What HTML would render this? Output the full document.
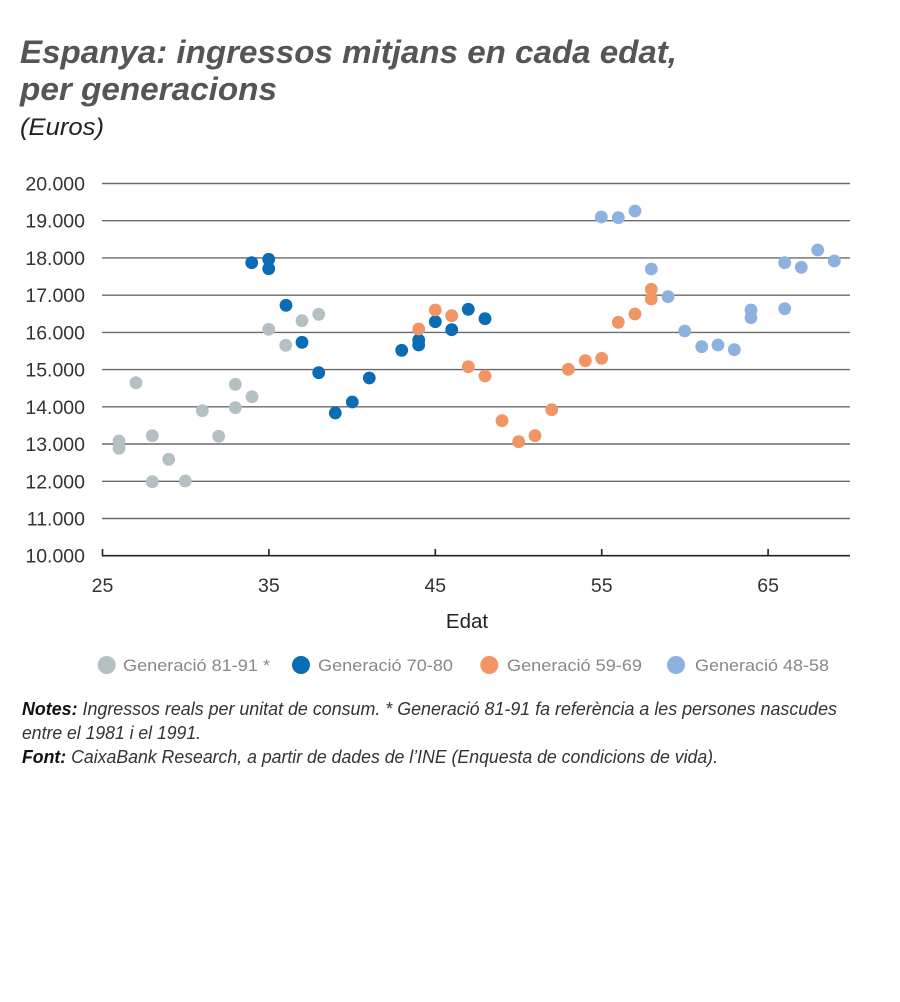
<!DOCTYPE html>
<html><head><meta charset="utf-8"><style>
html,body{margin:0;padding:0;background:#fff;}
svg{display:block;}
text{font-family:"Liberation Sans",sans-serif;}
</style></head><body>
<svg width="900" height="1002" viewBox="0 0 900 1002" xmlns="http://www.w3.org/2000/svg">
<rect width="900" height="1002" fill="#fff"/>
<!-- Title -->
<text x="20" y="63" font-size="32" font-weight="bold" font-style="italic" fill="#555" textLength="657" lengthAdjust="spacingAndGlyphs">Espanya: ingressos mitjans en cada edat,</text>
<text x="20" y="100" font-size="32" font-weight="bold" font-style="italic" fill="#555" textLength="257" lengthAdjust="spacingAndGlyphs">per generacions</text>
<text x="20" y="135" font-size="24" font-style="italic" fill="#222" textLength="84" lengthAdjust="spacingAndGlyphs">(Euros)</text>

<!-- gridlines -->
<g stroke="#6a6a6a" stroke-width="1.4">
<line x1="102" y1="183.5" x2="850" y2="183.5"/>
<line x1="102" y1="220.7" x2="850" y2="220.7"/>
<line x1="102" y1="257.9" x2="850" y2="257.9"/>
<line x1="102" y1="295.2" x2="850" y2="295.2"/>
<line x1="102" y1="332.4" x2="850" y2="332.4"/>
<line x1="102" y1="369.6" x2="850" y2="369.6"/>
<line x1="102" y1="406.8" x2="850" y2="406.8"/>
<line x1="102" y1="444.0" x2="850" y2="444.0"/>
<line x1="102" y1="481.3" x2="850" y2="481.3"/>
<line x1="102" y1="518.5" x2="850" y2="518.5"/>
</g>
<!-- axis -->
<g stroke="#222" stroke-width="1.6">
<line x1="102" y1="555.7" x2="850" y2="555.7"/>
<line x1="102.5" y1="549" x2="102.5" y2="556"/>
<line x1="268.9" y1="549" x2="268.9" y2="556"/>
<line x1="435.3" y1="549" x2="435.3" y2="556"/>
<line x1="601.7" y1="549" x2="601.7" y2="556"/>
<line x1="768.1" y1="549" x2="768.1" y2="556"/>
</g>
<!-- y labels -->
<g font-size="19.5" fill="#333" text-anchor="end">
<text x="85" y="190.5">20.000</text>
<text x="85" y="227.7">19.000</text>
<text x="85" y="264.9">18.000</text>
<text x="85" y="302.2">17.000</text>
<text x="85" y="339.4">16.000</text>
<text x="85" y="376.6">15.000</text>
<text x="85" y="413.8">14.000</text>
<text x="85" y="451.0">13.000</text>
<text x="85" y="488.3">12.000</text>
<text x="85" y="525.5">11.000</text>
<text x="85" y="562.7">10.000</text>
</g>
<!-- x labels -->
<g font-size="19.5" fill="#333" text-anchor="middle">
<text x="102.5" y="592">25</text>
<text x="268.9" y="592">35</text>
<text x="435.3" y="592">45</text>
<text x="601.7" y="592">55</text>
<text x="768.1" y="592">65</text>
</g>
<text x="467" y="628" font-size="20.5" fill="#222" text-anchor="middle">Edat</text>

<!-- grey 81-91 -->
<g fill="#b5c0c2">
<circle cx="119" cy="441" r="6.4"/>
<circle cx="119" cy="448.3" r="6.4"/>
<circle cx="136" cy="382.7" r="6.4"/>
<circle cx="152.3" cy="435.7" r="6.4"/>
<circle cx="152.3" cy="481.7" r="6.4"/>
<circle cx="168.7" cy="459.3" r="6.4"/>
<circle cx="185.3" cy="481" r="6.4"/>
<circle cx="202.3" cy="410.7" r="6.4"/>
<circle cx="218.7" cy="436.3" r="6.4"/>
<circle cx="235.3" cy="384.3" r="6.4"/>
<circle cx="235.3" cy="407.7" r="6.4"/>
<circle cx="252" cy="396.7" r="6.4"/>
<circle cx="268.7" cy="329.3" r="6.4"/>
<circle cx="285.7" cy="345.3" r="6.4"/>
<circle cx="302" cy="320.7" r="6.4"/>
<circle cx="318.7" cy="314.3" r="6.4"/>
</g>
<!-- dark blue 70-80 -->
<g fill="#0a6cb4">
<circle cx="251.7" cy="262.7" r="6.4"/>
<circle cx="268.7" cy="259.3" r="6.4"/>
<circle cx="268.7" cy="268.7" r="6.4"/>
<circle cx="286" cy="305.3" r="6.4"/>
<circle cx="302" cy="342.3" r="6.4"/>
<circle cx="318.7" cy="372.7" r="6.4"/>
<circle cx="335.3" cy="413" r="6.4"/>
<circle cx="352.3" cy="402" r="6.4"/>
<circle cx="369.3" cy="378" r="6.4"/>
<circle cx="401.7" cy="350.3" r="6.4"/>
<circle cx="418.7" cy="340" r="6.4"/>
<circle cx="418.7" cy="345" r="6.4"/>
<circle cx="435.3" cy="321.7" r="6.4"/>
<circle cx="451.7" cy="329.7" r="6.4"/>
<circle cx="468.3" cy="309.3" r="6.4"/>
<circle cx="485" cy="318.7" r="6.4"/>
</g>
<!-- orange 59-69 -->
<g fill="#f19466">
<circle cx="418.7" cy="329" r="6.4"/>
<circle cx="435.3" cy="310" r="6.4"/>
<circle cx="451.7" cy="315.7" r="6.4"/>
<circle cx="468.3" cy="366.7" r="6.4"/>
<circle cx="485" cy="376" r="6.4"/>
<circle cx="502" cy="420.7" r="6.4"/>
<circle cx="518.7" cy="441.7" r="6.4"/>
<circle cx="535" cy="435.7" r="6.4"/>
<circle cx="551.7" cy="409.7" r="6.4"/>
<circle cx="568.3" cy="369.3" r="6.4"/>
<circle cx="585.3" cy="360.7" r="6.4"/>
<circle cx="601.7" cy="358.3" r="6.4"/>
<circle cx="618.3" cy="322.3" r="6.4"/>
<circle cx="635" cy="314" r="6.4"/>
<circle cx="651.3" cy="289.3" r="6.4"/>
<circle cx="651.3" cy="299" r="6.4"/>
</g>
<!-- light blue 48-58 -->
<g fill="#8db2e0">
<circle cx="601.3" cy="217" r="6.4"/>
<circle cx="618.3" cy="217.7" r="6.4"/>
<circle cx="635" cy="211" r="6.4"/>
<circle cx="651.3" cy="269" r="6.4"/>
<circle cx="668" cy="296.7" r="6.4"/>
<circle cx="684.7" cy="331" r="6.4"/>
<circle cx="701.7" cy="346.7" r="6.4"/>
<circle cx="718" cy="345" r="6.4"/>
<circle cx="734.3" cy="349.7" r="6.4"/>
<circle cx="751" cy="310" r="6.4"/>
<circle cx="751" cy="317.7" r="6.4"/>
<circle cx="784.7" cy="262.7" r="6.4"/>
<circle cx="784.7" cy="308.7" r="6.4"/>
<circle cx="801.3" cy="267.3" r="6.4"/>
<circle cx="817.7" cy="250" r="6.4"/>
<circle cx="834.3" cy="261" r="6.4"/>
</g>

<!-- legend -->
<circle cx="106.7" cy="665" r="9" fill="#b5c0c2"/>
<circle cx="301" cy="665" r="9" fill="#0a6cb4"/>
<circle cx="489.3" cy="665" r="9" fill="#f19466"/>
<circle cx="676" cy="665" r="9" fill="#8db2e0"/>
<g font-size="17" fill="#888">
<text x="123" y="671" textLength="147" lengthAdjust="spacingAndGlyphs">Generació 81-91 *</text>
<text x="318" y="671" textLength="135" lengthAdjust="spacingAndGlyphs">Generació 70-80</text>
<text x="507" y="671" textLength="135" lengthAdjust="spacingAndGlyphs">Generació 59-69</text>
<text x="695" y="671" textLength="134" lengthAdjust="spacingAndGlyphs">Generació 48-58</text>
</g>

<!-- notes -->
<g font-size="18" font-style="italic" fill="#333">
<text x="22" y="715" textLength="815" lengthAdjust="spacingAndGlyphs"><tspan font-weight="bold" fill="#111">Notes:</tspan> Ingressos reals per unitat de consum. * Generació 81-91 fa referència a les persones nascudes</text>
<text x="22" y="739" textLength="179" lengthAdjust="spacingAndGlyphs">entre el 1981 i el 1991.</text>
<text x="22" y="763" textLength="696" lengthAdjust="spacingAndGlyphs"><tspan font-weight="bold" fill="#111">Font:</tspan> CaixaBank Research, a partir de dades de l’INE (Enquesta de condicions de vida).</text>
</g>
</svg>
</body></html>
